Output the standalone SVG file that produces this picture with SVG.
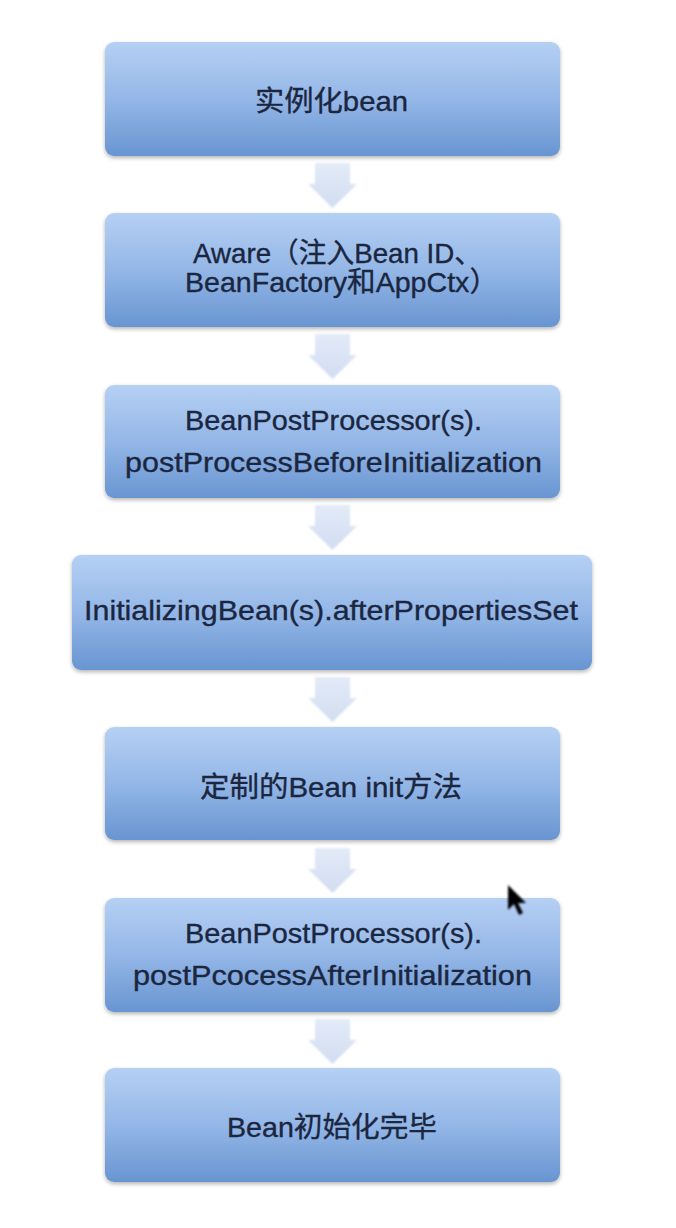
<svg xmlns="http://www.w3.org/2000/svg" width="676" height="1228" viewBox="0 0 676 1228">
  <defs>
    <linearGradient id="boxGrad" x1="0" y1="0" x2="0" y2="1">
      <stop offset="0" stop-color="#b5d0f4"/>
      <stop offset="0.5" stop-color="#94b7e7"/>
      <stop offset="1" stop-color="#6895d1"/>
    </linearGradient>
    <linearGradient id="arrowGrad" x1="0" y1="0" x2="0" y2="1">
      <stop offset="0" stop-color="#e3eaf8"/>
      <stop offset="1" stop-color="#d2ddf1"/>
    </linearGradient>
    <filter id="shadow" x="-5%" y="-10%" width="110%" height="125%">
      <feGaussianBlur in="SourceAlpha" stdDeviation="2"/>
      <feOffset dy="2" result="b"/>
      <feComponentTransfer><feFuncA type="linear" slope="0.3"/></feComponentTransfer>
      <feMerge><feMergeNode/><feMergeNode in="SourceGraphic"/></feMerge>
    </filter>
    <filter id="soft"><feGaussianBlur stdDeviation="0.8"/></filter>
  </defs>
  <style>
    .box { fill: url(#boxGrad); filter: url(#shadow); }
    .lbl { font-family: "Liberation Sans", "Noto Sans CJK SC", sans-serif; font-size: 28px; fill: #1b2640; stroke: #1b2640; stroke-width: 0.35; text-anchor: middle; }
    .arrow { fill: url(#arrowGrad); filter: url(#soft); }
  </style>
  <rect width="676" height="1228" fill="#ffffff"/>

  <g id="connectors">
    <polygon class="arrow" points="315,163 350,163 350,184 357,184 332.5,208 308,184 315,184"/>
    <polygon class="arrow" points="315,334 350,334 350,355 357,355 332.5,379 308,355 315,355"/>
    <polygon class="arrow" points="315,505 350,505 350,526 357,526 332.5,550 308,526 315,526"/>
    <polygon class="arrow" points="315,677 350,677 350,698 357,698 332.5,722 308,698 315,698"/>
    <polygon class="arrow" points="315,848 350,848 350,869 357,869 332.5,893 308,869 315,869"/>
    <polygon class="arrow" points="315,1019 350,1019 350,1040 357,1040 332.5,1064 308,1040 315,1040"/>
  </g>

  <g id="node1">
    <rect class="box" x="105" y="42" width="455" height="114" rx="9"/>
    <text class="lbl" x="331.5" y="111" textLength="153" lengthAdjust="spacingAndGlyphs">实例化bean</text>
  </g>
  <g id="node2">
    <rect class="box" x="105" y="213" width="455" height="114" rx="9"/>
    <text class="lbl" x="337.5" y="263" textLength="289" lengthAdjust="spacingAndGlyphs">Aware（注入Bean ID、</text>
    <text class="lbl" x="341.5" y="292" textLength="313" lengthAdjust="spacingAndGlyphs">BeanFactory和AppCtx）</text>
  </g>
  <g id="node3">
    <rect class="box" x="105" y="385" width="455" height="113" rx="9"/>
    <text class="lbl" x="333.5" y="430" textLength="297" lengthAdjust="spacingAndGlyphs">BeanPostProcessor(s).</text>
    <text class="lbl" x="333.5" y="472" textLength="417" lengthAdjust="spacingAndGlyphs">postProcessBeforeInitialization</text>
  </g>
  <g id="node4">
    <rect class="box" x="72" y="555" width="520" height="115" rx="9"/>
    <text class="lbl" x="331" y="620" textLength="494" lengthAdjust="spacingAndGlyphs">InitializingBean(s).afterPropertiesSet</text>
  </g>
  <g id="node5">
    <rect class="box" x="105" y="727" width="455" height="113" rx="9"/>
    <text class="lbl" x="331" y="797" textLength="262" lengthAdjust="spacingAndGlyphs">定制的Bean init方法</text>
  </g>
  <g id="node6">
    <rect class="box" x="105" y="898" width="455" height="114" rx="9"/>
    <text class="lbl" x="333.5" y="943" textLength="297" lengthAdjust="spacingAndGlyphs">BeanPostProcessor(s).</text>
    <text class="lbl" x="332.5" y="985" textLength="399" lengthAdjust="spacingAndGlyphs">postPcocessAfterInitialization</text>
  </g>
  <g id="node7">
    <rect class="box" x="105" y="1068" width="455" height="114" rx="9"/>
    <text class="lbl" x="332" y="1137" textLength="210" lengthAdjust="spacingAndGlyphs">Bean初始化完毕</text>
  </g>

  <polygon points="508,885 508,910 514,904 519,915 523,913 518,903 526,903" fill="#000000" filter="url(#soft)"/>
</svg>
